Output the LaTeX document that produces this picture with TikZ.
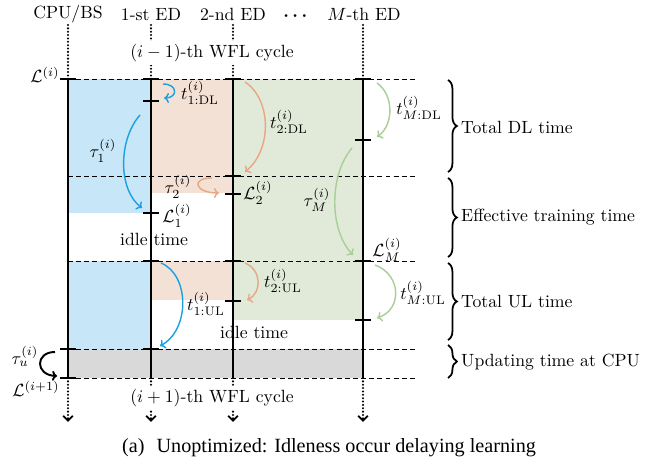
\documentclass[tikz,border=0pt]{standalone}
\usepackage{amsmath}
\usepackage{fontspec}
\newfontfamily\capfont{Liberation Serif}
\usetikzlibrary{arrows.meta,decorations.pathreplacing}
\definecolor{myblue}{HTML}{1BA1E2}
\definecolor{fillblue}{HTML}{C7E6F7}
\definecolor{myorange}{HTML}{E8A784}
\definecolor{fillorange}{HTML}{F4E1D6}
\definecolor{mygreen}{HTML}{A9CE98}
\definecolor{fillgreen}{HTML}{E1EAD9}
\definecolor{fillgray}{HTML}{D9D9D9}
\tikzset{
  axisline/.style={line width=1.1pt},
  tk/.style={line width=1.1pt},
  dl/.style={line width=0.45pt, dash pattern=on 2.8pt off 1.8pt},
  dotline/.style={line width=1.3pt, line cap=round, dash pattern=on 0pt off 1.9pt},
  dotarrow/.style={dotline, -{Straight Barb[length=2.8pt,width=5.4pt,line width=1pt]}},
  arr/.style={line width=0.8pt, -{To[length=2.8pt,width=5.6pt]}},
  lbl/.style={inner sep=0.5pt},
  wfl/.style={fill=white, inner sep=1.5pt},
  br/.style={line width=1pt, decorate, decoration={brace, amplitude=5pt}},
}
\begin{document}
\begin{tikzpicture}[x=0.565pt,y=-0.565pt]
\useasboundingbox (0,0) rectangle (664,464);
% fills
\fill[fillblue] (68,79) rectangle (151,213);
\fill[fillblue] (68,261) rectangle (151,349);
\fill[fillorange] (151,79) rectangle (233,193);
\fill[fillorange] (151,261) rectangle (233,300);
\fill[fillgreen] (233,79) rectangle (363,320);
\fill[fillgray] (68,349) rectangle (363,378);
% dashed horizontals
\foreach \yy/\nm in {79/h0,176/h1,261/h2,349/h3,378/h4}{
  \coordinate (\nm L) at (68,\yy);
  \coordinate (\nm R) at (418,\yy);
  \draw[dl] (\nm L) -- (\nm R);
}
% axes
\foreach \xx/\nm in {68/cpu,151/ed1,233/ed2,363/edm}{
  \coordinate (\nm T) at (\xx,25);
  \coordinate (\nm A) at (\xx,79);
  \coordinate (\nm B) at (\xx,378);
  \coordinate (\nm E) at (\xx,422);
  \draw[dotline] (\nm T) -- (\nm A);
  \draw[axisline] (\nm A) -- (\nm B);
  \draw[dotarrow] (\nm B) -- (\nm E);
}
% ticks
\foreach \xx/\yy in {68/79,68/349,68/378,
  151/79,151/101,151/213,151/261,151/349,
  233/79,233/176,233/194,233/261,233/301,
  363/79,363/140,363/261,363/320}{
  \draw[tk] (\xx-8,\yy) -- (\xx+8,\yy);
}
% top labels
\node[anchor=base] (lcpu) at (68,19) {CPU/BS};
\node[anchor=base] (led1) at (151,21) {1-st ED};
\node[anchor=base] (led2) at (233,21) {2-nd ED};
\node[anchor=base] (ldots) at (297,21) {$\boldsymbol{\cdots}$};
\node[anchor=base] (ledm) at (364,21) {$M$-th ED};
\node[wfl] (wfltop) at (212,53) {$(i-1)$-th WFL cycle};
\node[wfl] (wflbot) at (212,398) {$(i+1)$-th WFL cycle};
% curved arrows
\coordinate (a1s) at (163,84);  \coordinate (a1e) at (164,98);
\draw[arr, myblue] (a1s) .. controls (178,84) and (178,98) .. (a1e);
\coordinate (a2s) at (140,115); \coordinate (a2e) at (142,208);
\draw[arr, myblue] (a2s) .. controls (118,140) and (118,190) .. (a2e);
\coordinate (a3s) at (245,82);  \coordinate (a3e) at (245,172);
\draw[arr, myorange] (a3s) .. controls (272,100) and (272,150) .. (a3e);
\coordinate (a4s) at (212,178); \coordinate (a4e) at (219,193);
\draw[arr, myorange] (a4s) .. controls (190,178) and (195,193) .. (a4e);
\coordinate (a5s) at (377,83);  \coordinate (a5e) at (377,137);
\draw[arr, mygreen] (a5s) .. controls (394,95) and (394,125) .. (a5e);
\coordinate (a6s) at (352,148); \coordinate (a6e) at (353,255);
\draw[arr, mygreen] (a6s) .. controls (329,175) and (329,230) .. (a6e);
\coordinate (a7s) at (161,263); \coordinate (a7e) at (160,346);
\draw[arr, myblue] (a7s) .. controls (190,275) and (190,330) .. (a7e);
\coordinate (a8s) at (245,263); \coordinate (a8e) at (247,300);
\draw[arr, myorange] (a8s) .. controls (262,270) and (262,293) .. (a8e);
\coordinate (a9s) at (375,265); \coordinate (a9e) at (377,318);
\draw[arr, mygreen] (a9s) .. controls (402,275) and (402,310) .. (a9e);
\coordinate (a10s) at (55,352); \coordinate (a10e) at (57,376);
\draw[arr, black, line width=1.1pt] (a10s) .. controls (35,352) and (35,375) .. (a10e);
% math labels
\node[lbl] (Li) at (45,75) {$\mathcal{L}^{(i)}$};
\node[lbl] (t1dl) at (200,93) {$t^{(i)}_{1:\mathrm{DL}}$};
\node[lbl] (tau1) at (103,151) {$\tau_1^{(i)}$};
\node[lbl] (t2dl) at (289,122) {$t^{(i)}_{2:\mathrm{DL}}$};
\node[lbl] (tau2) at (178,187) {$\tau_2^{(i)}$};
\node[lbl] (L1) at (177,216) {$\mathcal{L}_1^{(i)}$};
\node[lbl] (idle1) at (154,239) {idle time};
\node[lbl] (L2) at (258,193) {$\mathcal{L}_2^{(i)}$};
\node[lbl] (tauM) at (317,200) {$\tau_M^{(i)}$};
\node[lbl] (tMdl) at (419,108) {$t^{(i)}_{M:\mathrm{DL}}$};
\node[lbl] (LM) at (387,250) {$\mathcal{L}_M^{(i)}$};
\node[lbl] (t1ul) at (206,304) {$t^{(i)}_{1:\mathrm{UL}}$};
\node[lbl] (t2ul) at (283,281) {$t^{(i)}_{2:\mathrm{UL}}$};
\node[lbl] (idle2) at (254,332) {idle time};
\node[lbl] (tMul) at (423,293) {$t^{(i)}_{M:\mathrm{UL}}$};
\node[lbl] (tauu) at (25,356) {$\tau_u^{(i)}$};
\node[lbl] (Lip1) at (36,389) {$\mathcal{L}^{(i+1)}$};
% braces
\coordinate (b1t) at (448,80);  \coordinate (b1b) at (448,172);
\coordinate (b2t) at (448,178); \coordinate (b2b) at (448,257);
\coordinate (b3t) at (448,263); \coordinate (b3b) at (448,340);
\coordinate (b4t) at (448,345); \coordinate (b4b) at (448,378);
\draw[br] (b1t) -- (b1b);
\draw[br] (b2t) -- (b2b);
\draw[br] (b3t) -- (b3b);
\draw[br] (b4t) -- (b4b);
\node[anchor=west, lbl] (tdl) at (460,127) {Total DL time};
\node[anchor=west, lbl] (eff) at (460,217) {Effective training time};
\node[anchor=west, lbl] (tul) at (460,302) {Total UL time};
\node[anchor=west, lbl] (upd) at (460,362) {Updating time at CPU};
% caption
\node (cap) at (329,448) {\capfont\fontsize{11.4}{13.5}\selectfont (a)\hspace{0.6em}Unoptimized: Idleness occur delaying learning};
\end{tikzpicture}
\end{document}
